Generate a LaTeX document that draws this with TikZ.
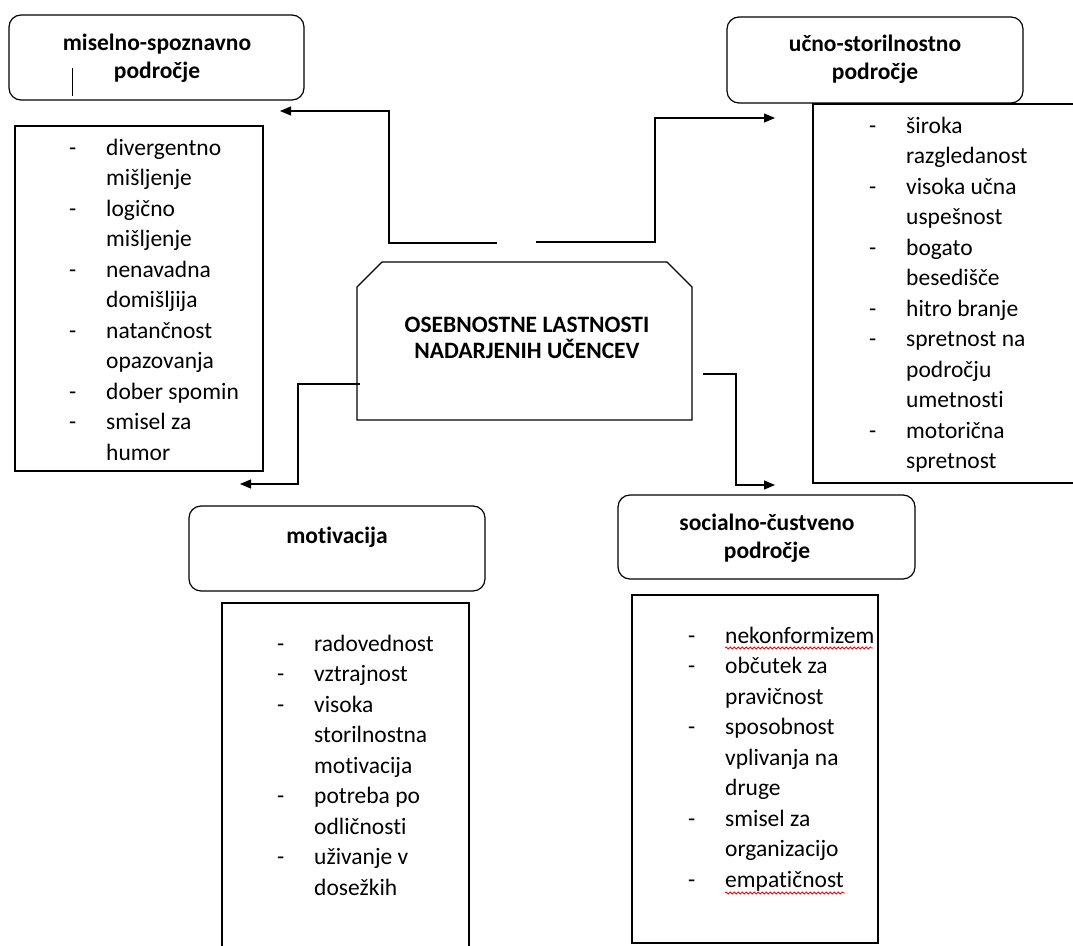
\documentclass[tikz,border=0pt]{standalone}
\usepackage{fontspec}
\setmainfont{Carlito}[Ligatures=CommonOff]
\usetikzlibrary{arrows.meta,decorations.pathmorphing}
\begin{document}
\begin{tikzpicture}[x=1pt,y=-1pt,
  box/.style={draw,line width=1.2pt},
  titlebox/.style={draw,line width=1.2pt,rounded corners=12pt},
  ttl/.style={anchor=base,inner sep=0pt,font=\bfseries\fontsize{23.5}{28}\selectfont},
  lst/.style={anchor=base west,inner sep=0pt,font=\fontsize{23.5}{30.5}\selectfont},
  conn/.style={line width=1.2pt,-{Triangle[length=11pt,width=9pt]}},
  squig/.style={draw=red,line width=0.8pt,decorate,decoration={snake,amplitude=1pt,segment length=4pt}}]
\useasboundingbox (0,0) rectangle (1073,945);

% title boxes
\draw[titlebox] (9,15) rectangle (304,100);
\node[ttl] (t1) at (157,50) {\begin{tabular}[t]{@{}c@{}}miselno-spoznavno\\področje\end{tabular}};
\draw[line width=1pt] (72,68) -- (72,96);

\draw[titlebox] (727,17) rectangle (1023,103);
\node[ttl] (t2) at (875,51) {\begin{tabular}[t]{@{}c@{}}učno-storilnostno\\področje\end{tabular}};

\draw[titlebox] (189,506) rectangle (485,591);
\node[ttl] (t3) at (337,543) {motivacija};

\draw[titlebox] (618,495) rectangle (915,579);
\node[ttl] (t4) at (767,530) {\begin{tabular}[t]{@{}c@{}}socialno-čustveno\\področje\end{tabular}};

% central shape
\draw[box] (357,287) -- (382,262) -- (667,262) -- (692,287) -- (692,420) -- (357,420) -- cycle;
\node[ttl] (c) at (527,332) {\begin{tabular}[t]{@{}c@{}}OSEBNOSTNE LASTNOSTI\\[-2pt]NADARJENIH UČENCEV\end{tabular}};

% list boxes
\draw[box] (15,126) rectangle (263,471);
\node[lst] (l1) at (69,155) {\begin{tabular}[t]{@{}p{37pt}@{}l@{}}
- & divergentno\\ & mišljenje\\
- & logično\\ & mišljenje\\
- & nenavadna\\ & domišljija\\
- & natančnost\\ & opazovanja\\
- & dober spomin\\
- & smisel za\\ & humor
\end{tabular}};

\draw[box] (1075,104) -- (813,104) -- (813,483) -- (1075,483);
\node[lst] (l2) at (869,133) {\begin{tabular}[t]{@{}p{37pt}@{}l@{}}
- & široka\\ & razgledanost\\
- & visoka učna\\ & uspešnost\\
- & bogato\\ & besedišče\\
- & hitro branje\\
- & spretnost na\\ & področju\\ & umetnosti\\
- & motorična\\ & spretnost
\end{tabular}};

\draw[box] (222,950) -- (222,603) -- (469,603) -- (469,950);
\node[lst] (l3) at (277,651) {\begin{tabular}[t]{@{}p{37pt}@{}l@{}}
- & radovednost\\
- & vztrajnost\\
- & visoka\\ & storilnostna\\ & motivacija\\
- & potreba po\\ & odličnosti\\
- & uživanje v\\ & dosežkih
\end{tabular}};

\draw[box] (632,595) rectangle (878,943);
\node[lst] (l4) at (688,643) {\begin{tabular}[t]{@{}p{37pt}@{}l@{}}
- & nekonformizem\\
- & občutek za\\ & pravičnost\\
- & sposobnost\\ & vplivanja na\\ & druge\\
- & smisel za\\ & organizacijo\\
- & empatičnost
\end{tabular}};
\draw[squig] (725,648) -- (873,648);
\draw[squig] (725,893) -- (845,893);

% connectors
\coordinate (a1s) at (497,243); \coordinate (a1k) at (389,111); \coordinate (a1e) at (280,111);
\coordinate (a2s) at (536,242); \coordinate (a2k) at (655,118); \coordinate (a2e) at (775,118);
\coordinate (a3s) at (360,384); \coordinate (a3k) at (298,484); \coordinate (a3e) at (240,484);
\coordinate (a4s) at (703,374); \coordinate (a4k) at (736,485); \coordinate (a4e) at (775,485);
\draw[conn] (a1s) -| (a1k) -- (a1e);
\draw[conn] (a2s) -| (a2k) -- (a2e);
\draw[conn] (a3s) -| (a3k) -- (a3e);
\draw[conn] (a4s) -| (a4k) -- (a4e);
\end{tikzpicture}
\end{document}
